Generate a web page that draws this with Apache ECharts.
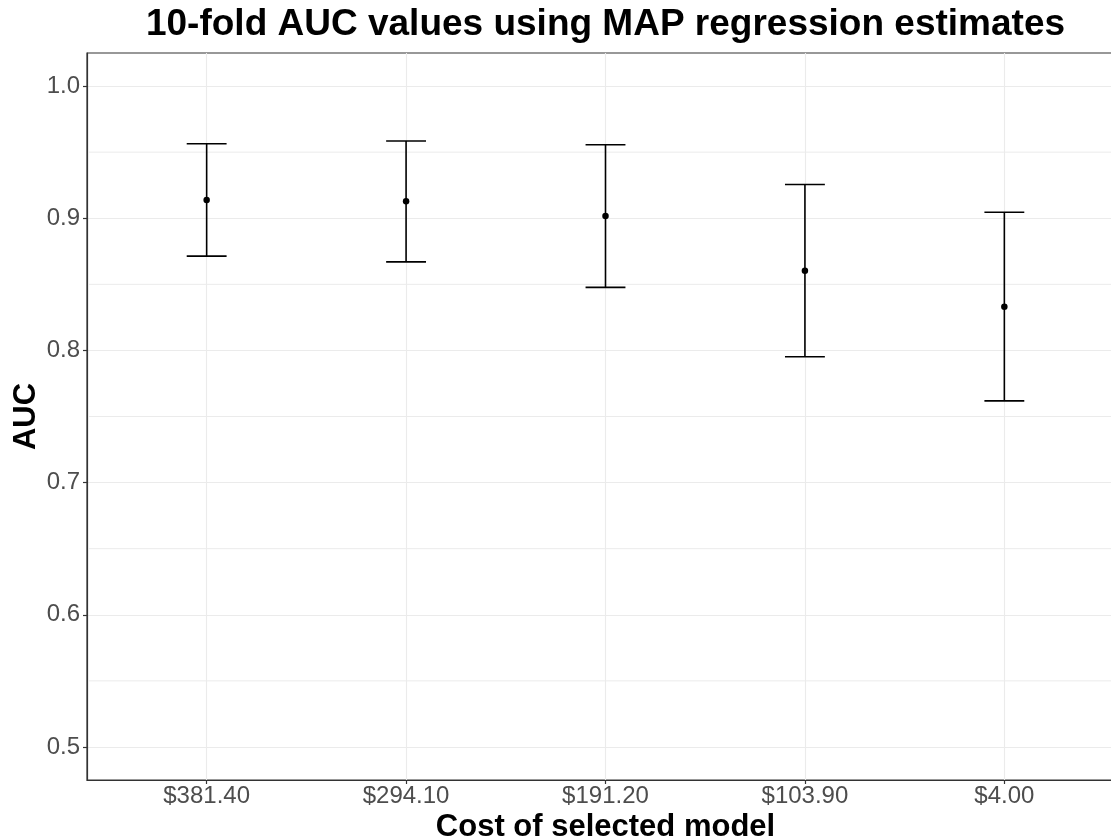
<!DOCTYPE html>
<html><head><meta charset="utf-8">
<script src="https://cdn.jsdelivr.net/npm/echarts@6/dist/echarts.min.js"></script>
<style>html,body{margin:0;padding:0;background:#fff}#chart{width:1111px;height:838px}</style>
</head><body><div id="chart"></div>
<script>
const categories = ['$381.40', '$294.10', '$191.20', '$103.90', '$4.00'];
const aucMean  = [0.9138, 0.9128, 0.9017, 0.8603, 0.8331];
const aucLower = [0.8713, 0.8670, 0.8477, 0.7952, 0.7618];
const aucUpper = [0.9564, 0.9584, 0.9556, 0.9255, 0.9045];
const yTicks = [0.5, 0.6, 0.7, 0.8, 0.9, 1.0];
const yMinorTicks = [0.55, 0.65, 0.75, 0.85, 0.95];
const xPositions = categories.map((c, i) => i + 1);

const FONT = "'Liberation Sans', Arial, Helvetica, sans-serif";
const chart = echarts.init(document.getElementById('chart'), null, {renderer: 'canvas'});

const X_MIN = 0.4, X_MAX = 5.6;
const errData = xPositions.map((x, i) => [x, aucLower[i], aucUpper[i]]);
const ptData = xPositions.map((x, i) => [x, aucMean[i]]);
const minorData = yMinorTicks.map(v => [v]);

chart.setOption({
  animation: false,
  backgroundColor: '#ffffff',
  graphic: [{
    type: 'text', x: 605.5, y: 24.5, z: 10,
    style: {
      text: '10-fold AUC values using MAP regression estimates',
      font: "bold 37px " + FONT, fill: '#000', align: 'center', verticalAlign: 'middle'
    }
  }],
  grid: {
    left: 87, top: 53, width: 1037, height: 727,
    show: true, borderColor: '#333333', borderWidth: 1.2, backgroundColor: 'transparent',
    containLabel: false, outerBoundsMode: 'none'
  },
  xAxis: {
    type: 'value', min: X_MIN, max: X_MAX,
    name: 'Cost of selected model', nameLocation: 'middle', nameGap: 32, nameMoveOverlap: false,
    nameTextStyle: {fontFamily: FONT, fontWeight: 'bold', fontSize: 31, color: '#000'},
    axisLine: {show: true, lineStyle: {color: '#333333', width: 1.2}},
    axisTick: {show: true, customValues: xPositions, length: 4, lineStyle: {color: '#333333', width: 1.2}},
    axisLabel: {
      customValues: xPositions, margin: 4,
      formatter: v => categories[Math.round(v) - 1] || '',
      fontFamily: FONT, fontSize: 24, color: '#4d4d4d'
    },
    splitLine: {show: true, lineStyle: {color: '#ebebeb', width: 1.1}}
  },
  yAxis: {
    type: 'value', min: 0.475, max: 1.025,
    name: 'AUC', nameLocation: 'middle', nameGap: 45, nameRotate: 90, nameMoveOverlap: false,
    nameTextStyle: {fontFamily: FONT, fontWeight: 'bold', fontSize: 31, color: '#000'},
    axisLine: {show: true, lineStyle: {color: '#333333', width: 1.2}},
    axisTick: {show: true, customValues: yTicks, length: 4, lineStyle: {color: '#333333', width: 1.2}},
    axisLabel: {
      customValues: yTicks, margin: 7,
      formatter: v => v.toFixed(1),
      fontFamily: FONT, fontSize: 24, color: '#4d4d4d'
    },
    splitLine: {show: true, lineStyle: {color: '#ebebeb', width: 1.1}}
  },
  series: [
    {
      type: 'custom', z: 1, silent: true, data: minorData,
      encode: {y: 0},
      renderItem: function (params, api) {
        const v = api.value(0);
        const a = api.coord([X_MIN, v]);
        const b = api.coord([X_MAX, v]);
        return {type: 'line', shape: {x1: a[0] + 1, y1: a[1], x2: b[0], y2: b[1]},
                style: {stroke: '#ebebeb', lineWidth: 1}};
      }
    },
    {
      type: 'custom', z: 5, data: errData,
      renderItem: function (params, api) {
        const x = api.value(0), lo = api.value(1), hi = api.value(2);
        const pLo = api.coord([x, lo]);
        const pHi = api.coord([x, hi]);
        const half = api.size([0.2, 0])[0] / 2;
        const st = {stroke: '#000', lineWidth: 1.6};
        return {
          type: 'group',
          children: [
            {type: 'line', shape: {x1: pLo[0], y1: pLo[1], x2: pHi[0], y2: pHi[1]}, style: st},
            {type: 'line', shape: {x1: pLo[0] - half, y1: pLo[1], x2: pLo[0] + half, y2: pLo[1]}, style: st},
            {type: 'line', shape: {x1: pHi[0] - half, y1: pHi[1], x2: pHi[0] + half, y2: pHi[1]}, style: st}
          ]
        };
      }
    },
    {
      type: 'scatter', z: 6, data: ptData, symbol: 'circle', symbolSize: 6.5,
      itemStyle: {color: '#000', opacity: 1}
    }
  ]
});
</script>
</body></html>
